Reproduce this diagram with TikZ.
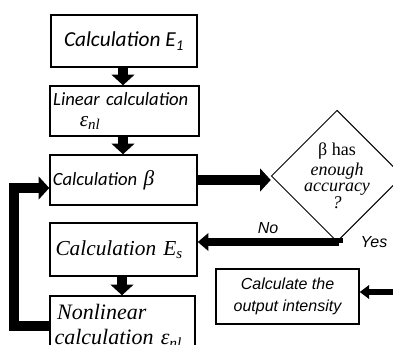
\documentclass[tikz,border=0pt]{standalone}
\usepackage{fontspec}
\setmainfont{Liberation Serif}
\newfontfamily\cbfont{Carlito}
\newfontfamily\arfont{Liberation Sans}
\usetikzlibrary{shapes.geometric,arrows.meta,positioning}
\tikzset{
  calcbox/.style={draw,line width=1.1pt,minimum width=110pt,inner sep=2pt,anchor=center},
  bigarrow/.style={line width=7.5pt,-{Triangle[width=17pt,length=8pt]}},
  midarrow/.style={line width=5.5pt,-{Triangle[width=13pt,length=8pt]}},
  smallarrow/.style={line width=3.8pt,-{Triangle[width=10pt,length=7pt]}},
}
\begin{document}
\begin{tikzpicture}[x=0.75pt,y=-0.75pt]
\useasboundingbox(0,0)rectangle(393,345);
\clip(0,0)rectangle(393,345);
% left column
\node[calcbox,minimum width=109.5pt,minimum height=39pt,font=\cbfont\itshape\fontsize{16}{18}\selectfont](cE1)at(124,41){Calculation E\textsubscript{1}};
\node[calcbox,minimum width=111.75pt,minimum height=37.5pt,text width=107pt,align=left,font=\cbfont\itshape\fontsize{14}{15}\selectfont](cLin)at(124.5,111){Linear calculation\\[1pt]\hspace*{20pt}{\rmfamily\itshape\fontsize{16}{16}\selectfont ε\textsubscript{nl}}};
\node[calcbox,minimum width=110.25pt,minimum height=37.5pt,text width=106pt,align=left,font=\cbfont\itshape\fontsize{14}{15}\selectfont](cBeta)at(123.5,180){Calculation\ {\rmfamily\itshape\fontsize{16}{16}\selectfont β}};
\node[calcbox,minimum width=110.25pt,minimum height=39.75pt,text width=104pt,align=left,font=\rmfamily\itshape\fontsize{16}{18}\selectfont](cEs)at(123.5,249.5){\hspace*{1pt}Calculation E\textsubscript{s}};
\node[calcbox,minimum width=108.75pt,minimum height=45pt,text width=102pt,align=left,font=\rmfamily\itshape\fontsize{16.5}{19}\selectfont](cNon)at(122.5,326){\hspace*{2pt}Nonlinear\\calculation ε\textsubscript{nl}};
% decision and output
\node[draw,diamond,line width=0.7pt,minimum width=82.5pt,minimum height=78pt,inner sep=0pt,align=center,font=\rmfamily\fontsize{13.5}{12.5}\selectfont](dec)at(337,176){\raisebox{2pt}{β has}\\\textit{enough}\\\textit{accuracy}\\\textit{?}};
\node[calcbox,minimum width=107.25pt,minimum height=41.25pt,align=center,font=\arfont\itshape\fontsize{12}{16}\selectfont](cOut)at(287.5,296.5){Calculate the\\output intensity};
\node[font=\arfont\itshape\fontsize{12}{12}\selectfont](lNo)at(268,228){No};
\node[font=\arfont\itshape\fontsize{12}{12}\selectfont](lYes)at(374,242){Yes};
\coordinate(inR)at(400,292);
% connectors
\draw[bigarrow](cE1.south-|123,0)--(cLin.north-|123,0);
\draw[bigarrow](cLin.south-|123,0)--(cBeta.north-|123,0);
\draw[bigarrow](cEs.south-|122,0)--(cNon.north-|122,0);
\draw[bigarrow](cBeta.east)--(cBeta.east-|dec.west);
\draw[bigarrow](cNon.west)--++(-35,0)|-([shift={(0,8)}]cBeta.west);
\draw[midarrow]([xshift=1.5pt]dec.south)|-([shift={(0,-7.5)}]cEs.east);
\draw[line width=7.5pt](dec.east)--++(20,0);
\draw[smallarrow](inR)--(inR-|cOut.east);
\end{tikzpicture}
\end{document}
